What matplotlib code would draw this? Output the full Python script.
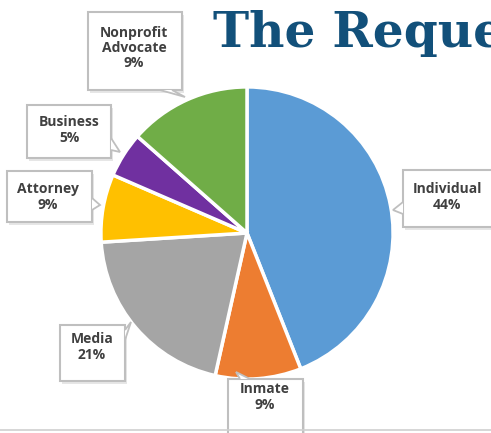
import matplotlib
matplotlib.use('Agg')
import matplotlib.pyplot as plt
from matplotlib.patches import Rectangle, Polygon

categories = ['Individual', 'Inmate', 'Media', 'Attorney', 'Business', 'Nonprofit\nAdvocate']
shares = [44, 9.5, 20.5, 7.5, 5, 13.5]
pct_labels = ['44%', '9%', '21%', '9%', '5%', '9%']
colors = ['#5B9BD5', '#ED7D31', '#A5A5A5', '#FFC000', '#7030A0', '#70AD47']

W, H = 491, 433
fig = plt.figure(figsize=(W / 100, H / 100), dpi=100)

# pie: centre ~(247, 233) px, radius ~148 px
cx, cy, r = 247, 233, 149
ax = fig.add_axes([(cx - r) / W, (H - cy - r) / H, 2 * r / W, 2 * r / H])
ax.pie(shares, colors=colors, startangle=90, counterclock=False, radius=1,
       wedgeprops=dict(edgecolor='white', linewidth=2.5))
ax.set_xlim(-1.02, 1.02)
ax.set_ylim(-1.02, 1.02)
ax.set_aspect('equal')
ax.axis('off')


def px(x, y):
    return x / W, 1 - y / H


# thin grey rule at the bottom
fig.add_artist(plt.Line2D([0, 1], [px(0, 430)[1]] * 2, color='#D0D0D0', lw=1.2))

# callout boxes (left, top, right, bottom) in px, plus pointer triangle
boxes = [
    ((403, 170, 495, 227), [(403, 202), (393, 210), (403, 214)]),
    ((228, 379, 303, 440), [(240, 379), (236, 372), (250, 379)]),
    ((60, 325, 125, 381), [(125, 330), (131, 322), (125, 340)]),
    ((7, 171, 92, 222), [(92, 198), (100, 205), (92, 210)]),
    ((27, 105, 111, 158), [(111, 138), (120, 152), (111, 150)]),
    ((88, 12, 182, 90), [(160, 90), (185, 97), (172, 90)]),
]
text_pos = [(447, 197), (265, 397), (92, 347), (48, 197), (69, 130), (134, 48)]

for (l, t, rr, b), tri in boxes:
    x0, y1 = px(l, t)
    x1, y0 = px(rr, b)
    fig.add_artist(Rectangle((x0 + 0.004, y0 - 0.006), x1 - x0, y1 - y0,
                             transform=fig.transFigure, facecolor='#E6E6E6',
                             edgecolor='none'))
    fig.add_artist(Rectangle((x0, y0), x1 - x0, y1 - y0, transform=fig.transFigure,
                             facecolor='white', edgecolor='#BFBFBF', lw=1.5))
    fig.add_artist(Polygon([px(*p) for p in tri], closed=False,
                           transform=fig.transFigure, facecolor='white',
                           edgecolor='#BFBFBF', lw=1.3))

for name, pct, (tx, ty) in zip(categories, pct_labels, text_pos):
    fig.text(*px(tx, ty), f'{name}\n{pct}', ha='center', va='center',
             fontsize=10, fontweight='bold', color='#404040', family='Open Sans',
             linespacing=1.1)

fig.text(*px(213, 47), 'The Requesters', ha='left', va='baseline',
         fontsize=35, fontweight='bold', color='#12507A', family='DejaVu Serif')

fig.savefig('out.png', dpi=100)
